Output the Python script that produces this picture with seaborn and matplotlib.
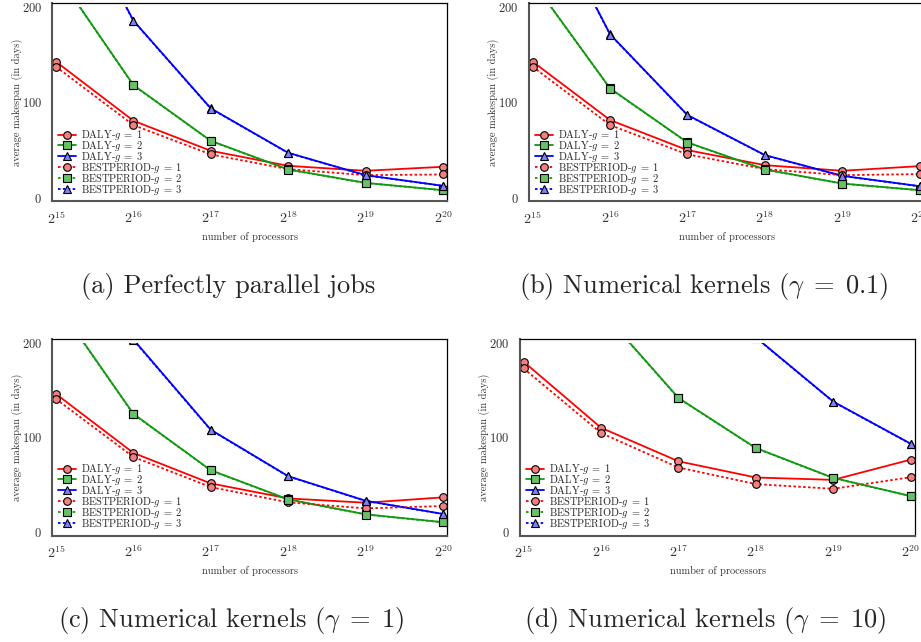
import matplotlib
matplotlib.use("Agg")
import matplotlib.pyplot as plt
import seaborn as sns
from matplotlib.transforms import Bbox, TransformedBbox

# number of processors (powers of two)
exponents = [15, 16, 17, 18, 19, 20]
processors = [2 ** e for e in exponents]

# (a) Perfectly parallel jobs
a_daly_g1 = [142.8, 80.7, 49.1, 33.3, 28.1, 32.3]
a_daly_g2 = [236.8, 118.2, 59.6, 29.5, 15.4, 7.7]
a_daly_g3 = [341.0, 186.0, 93.7, 47.0, 23.5, 12.3]
a_best_g1 = [137.5, 76.1, 45.3, 29.8, 23.5, 24.2]
a_best_g2 = [236.5, 118.0, 59.4, 29.3, 15.2, 7.6]
a_best_g3 = [340.5, 185.7, 93.5, 46.8, 23.3, 12.2]

# (b) Numerical kernels, gamma = 0.1
b_daly_g1 = [142.8, 81.4, 49.8, 34.0, 28.1, 33.0]
b_daly_g2 = [227.0, 114.7, 57.9, 29.5, 14.7, 7.7]
b_daly_g3 = [329.0, 171.6, 86.7, 44.6, 22.8, 11.9]
b_best_g1 = [137.5, 76.1, 45.3, 29.8, 23.5, 24.6]
b_best_g2 = [226.7, 114.5, 57.7, 29.3, 14.5, 7.6]
b_best_g3 = [328.5, 171.3, 86.5, 44.4, 22.6, 11.8]

# (c) Numerical kernels, gamma = 1
c_daly_g1 = [146.1, 83.5, 51.1, 35.2, 30.6, 36.3]
c_daly_g2 = [243.0, 125.0, 65.1, 34.2, 18.3, 9.9]
c_daly_g3 = [400.0, 204.0, 108.1, 58.8, 32.7, 18.7]
c_best_g1 = [140.8, 79.2, 47.2, 31.0, 24.6, 27.1]
c_best_g2 = [242.6, 124.7, 64.9, 34.0, 18.1, 9.8]
c_best_g3 = [399.0, 203.5, 107.8, 58.6, 32.5, 18.6]

# (d) Numerical kernels, gamma = 10
d_daly_g1 = [180.3, 110.2, 74.6, 57.4, 54.9, 76.4]
d_daly_g2 = [370.0, 234.9, 141.9, 88.7, 57.0, 37.7]
d_daly_g3 = [900.0, 560.0, 340.0, 206.2, 138.0, 93.3]
d_best_g1 = [173.2, 104.6, 68.0, 50.4, 45.4, 57.7]
d_best_g2 = [369.0, 234.5, 141.6, 88.5, 56.8, 37.6]
d_best_g3 = [899.0, 559.0, 339.0, 205.9, 137.8, 93.1]

captions = [
    "(a) Perfectly parallel jobs",
    r"(b) Numerical kernels ($\gamma\;=\;0.1$)",
    r"(c) Numerical kernels ($\gamma\;=\;1$)",
    r"(d) Numerical kernels ($\gamma\;=\;10$)",
]

panels = [
    [a_daly_g1, a_daly_g2, a_daly_g3, a_best_g1, a_best_g2, a_best_g3],
    [b_daly_g1, b_daly_g2, b_daly_g3, b_best_g1, b_best_g2, b_best_g3],
    [c_daly_g1, c_daly_g2, c_daly_g3, c_best_g1, c_best_g2, c_best_g3],
    [d_daly_g1, d_daly_g2, d_daly_g3, d_best_g1, d_best_g2, d_best_g3],
]

labels = [r"DALY-$g\;=\;1$", r"DALY-$g\;=\;2$", r"DALY-$g\;=\;3$",
          r"BESTPERIOD-$g\;=\;1$", r"BESTPERIOD-$g\;=\;2$",
          r"BESTPERIOD-$g\;=\;3$"]
line_colors = ["#ff0000", "#119911", "#0000ff"] * 2
fill_colors = ["#f47f7f", "#66c266", "#7f7fff"] * 2
markers = ["o", "s", "^"] * 2
styles = ["-", "-", "-", (0, (1.4, 1.3)), (0, (1.4, 1.3)), (0, (1.4, 1.3))]

sns.set_style("white")
plt.rcParams["font.family"] = "cmr10"
plt.rcParams["mathtext.fontset"] = "cm"
plt.rcParams["axes.formatter.use_mathtext"] = True

W, H = 921, 642
fig = plt.figure(figsize=(W / 100, H / 100), dpi=100)

# axes boxes in pixels: left, top, right, bottom
boxes = [(52.3, 3.3, 447.3, 201.5),
         (529.0, 3.3, 924.0, 201.5),
         (52.3, 339.3, 447.3, 535.5),
         (520.0, 339.3, 915.0, 535.5)]
caption_pos = [(228, 287), (704, 287), (231, 620), (705, 620)]

for k, (series, box) in enumerate(zip(panels, boxes)):
    l, t, r, b = box
    ax = fig.add_axes([l / W, 1 - b / H, (r - l) / W, (b - t) / H])
    for vals, lab, lc, fc, mk, ls in zip(series, labels, line_colors,
                                         fill_colors, markers, styles):
        sns.lineplot(x=processors, y=vals, ax=ax, color=lc, linestyle=ls,
                     linewidth=1.3, marker=mk,
                     markersize=6 if mk == "^" else 5.5,
                     markerfacecolor=fc, markeredgecolor="black",
                     markeredgewidth=0.8, label=lab)

    ax.set_xscale("log", base=2)
    ax.set_xlim(2 ** 14.952, 2 ** 20.056)
    ax.set_ylim(-4.2, 204.2)
    ax.set_xticks(processors)
    ax.set_xticklabels([rf"$2^{{{e}}}$" for e in exponents])
    ax.minorticks_off()
    ax.set_yticks([0, 100, 200])
    ax.tick_params(direction="out", length=3.5, width=1, color="#555555",
                   labelcolor="#333333")
    ax.tick_params(axis="y", pad=4, labelsize=9)
    ax.tick_params(axis="x", pad=3, labelsize=10)

    for side in ["top", "right"]:
        ax.spines[side].set_color("black")
        ax.spines[side].set_linewidth(0.9)
    for side in ["left", "bottom"]:
        ax.spines[side].set_color("#555555")
        ax.spines[side].set_linewidth(1.5)

    ax.set_xlabel("number of processors", fontsize=7.5, color="#333333")
    ax.set_ylabel("average makespan (in days)", fontsize=7.5, color="#333333")
    ax.xaxis.set_label_coords(0.5, -0.155)
    ax.yaxis.set_label_coords(-0.075, 0.5)

    ax.legend(loc="lower left", bbox_to_anchor=(0.015, 0.025), frameon=False,
              fontsize=7.5, handlelength=1.7, handletextpad=0.5,
              labelspacing=-0.3, borderpad=0, borderaxespad=0)

    # curves are cut at 200 days
    clip = TransformedBbox(Bbox([[2 ** 14, -50], [2 ** 21, 200]]), ax.transData)
    for line in ax.get_lines():
        line.set_clip_box(clip)

    cx, cy = caption_pos[k]
    fig.text(cx / W, 1 - cy / H, captions[k], ha="center", va="center",
             fontsize=19)

fig.savefig("out.png", dpi=100)
